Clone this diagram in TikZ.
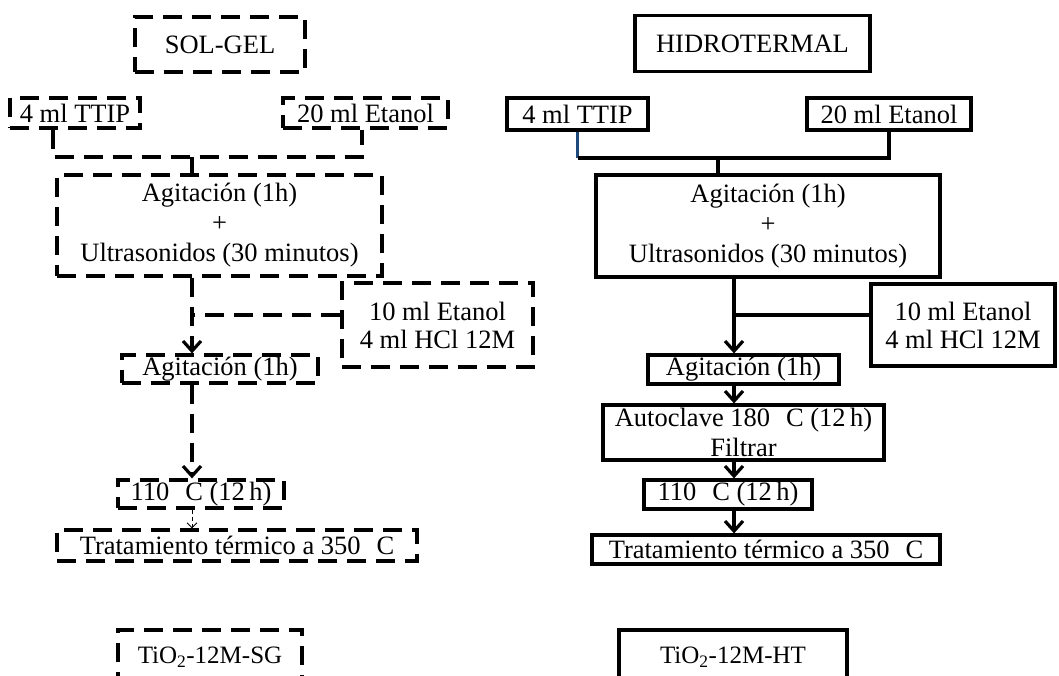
\documentclass[tikz,border=0pt]{standalone}
\usepackage{fontspec}
\setmainfont{Liberation Serif}
\usetikzlibrary{arrows.meta}
\definecolor{linkblue}{RGB}{31,73,125}
\tikzset{
  box/.style={draw, line width=3.2pt, inner sep=0pt, align=center,
    font=\fontsize{26.5}{30}\selectfont},
  dbox/.style={box, dash pattern=on 19pt off 10pt},
  sline/.style={line width=3.2pt},
  dline/.style={line width=3.2pt, dash pattern=on 19pt off 10pt},
  arr/.style={-{Straight Barb[length=10pt,width=18pt]}},
  thinarr/.style={line width=0.9pt, dash pattern=on 4pt off 3pt, -{Straight Barb[length=5pt,width=10pt]}},
  blueline/.style={line width=2.6pt, draw=linkblue}
}
\begin{document}
\begin{tikzpicture}[x=1pt,y=-1pt]
\useasboundingbox (0,0) rectangle (1059,675);
% ---------------- SOL-GEL ----------------
\node[dbox, minimum width=170pt, minimum height=55pt] (solgel) at (220,44.5) {SOL-GEL};
\node[dbox, minimum width=130pt, minimum height=30pt] (sgttip) at (75,113) {4 ml TTIP};
\node[dbox, minimum width=165pt, minimum height=30pt] (sgeta) at (365.5,113) {20 ml Etanol};
\node[dbox, minimum width=325pt, minimum height=101pt] (sgagit1) at (219.5,225.5) {Agitaci\'on (1h)\\+\\Ultrasonidos (30 minutos)};
\node[dbox, minimum width=191pt, minimum height=84pt, font=\fontsize{26.5}{28}\selectfont] (sgetoh) at (437.5,325) {10 ml Etanol\\4 ml HCl 12M};
\node[dbox, minimum width=196pt, minimum height=28pt] (sgagit2) at (220,369) {Agitaci\'on (1h)};
\node[dbox, minimum width=166pt, minimum height=28pt] (sg110) at (201,494) {110\hspace{0.6em}C (12\,h)};
\node[dbox, minimum width=360pt, minimum height=31pt] (sgtrat) at (237,545.5) {Tratamiento t\'ermico a 350\hspace{0.6em}C};
\node[dbox, minimum width=184pt, minimum height=54pt, font=\fontsize{25}{30}\selectfont] (sgtio) at (210,657) {TiO\textsubscript{2}-12M-SG};

\coordinate (sgj) at (192,157);
\coordinate (sgk) at (192,315);
\draw[dline] ([xshift=-22pt]sgttip.south) |- (sgj) -| ([xshift=-3.5pt]sgeta.south);
\draw[dline] (sgj) -- (sgagit1.north -| sgj);
\draw[dline, arr] (sgagit1.south -| sgk) -- (sgagit2.north -| sgk);
\draw[dline] (sgetoh.west |- sgk) -- (sgk);
\draw[dline, arr] (sgagit2.south -| sgk) -- (sg110.north -| sgk);
\draw[thinarr] (sg110.south -| sgk) -- (sgtrat.north -| sgk);

% ---------------- HIDROTERMAL ----------------
\node[box, minimum width=235pt, minimum height=56pt] (hidro) at (752.5,43.5) {HIDROTERMAL};
\node[box, minimum width=141pt, minimum height=32pt] (htttip) at (577.5,114) {4 ml TTIP};
\node[box, minimum width=164pt, minimum height=32pt] (hteta) at (889,114) {20 ml Etanol};
\node[box, minimum width=344pt, minimum height=102pt] (htagit1) at (768,226) {Agitaci\'on (1h)\\+\\Ultrasonidos (30 minutos)};
\node[box, minimum width=184pt, minimum height=82pt, font=\fontsize{26.5}{28}\selectfont] (htetoh) at (963,325) {10 ml Etanol\\4 ml HCl 12M};
\node[box, minimum width=191pt, minimum height=29pt] (htagit2) at (743.5,369.5) {Agitaci\'on (1h)};
\node[box, minimum width=281pt, minimum height=55pt] (htauto) at (743.5,432.5) {Autoclave 180\hspace{0.6em}C (12\,h)\\Filtrar};
\node[box, minimum width=168pt, minimum height=29pt] (ht110) at (728,494.5) {110\hspace{0.6em}C (12\,h)};
\node[box, minimum width=348pt, minimum height=29pt] (httrat) at (766,549.5) {Tratamiento t\'ermico a 350\hspace{0.6em}C};
\node[box, minimum width=228pt, minimum height=54pt, font=\fontsize{25}{30}\selectfont] (httio) at (733,657) {TiO\textsubscript{2}-12M-HT};

\coordinate (htj) at (718,158);
\coordinate (htk) at (734,315);
\draw[blueline] (htttip.south) -- (htttip.south |- htj);
\draw[sline] (htttip.south |- htj) -| (hteta.south);
\draw[sline] (htj) -- (htagit1.north -| htj);
\draw[sline, arr] (htagit1.south -| htk) -- (htagit2.north -| htk);
\draw[sline] (htetoh.west |- htk) -- (htk);
\draw[sline, arr] (htagit2.south -| htk) -- (htauto.north -| htk);
\draw[sline, arr] (htauto.south -| htk) -- (ht110.north -| htk);
\draw[sline, arr] (ht110.south -| htk) -- (httrat.north -| htk);
\end{tikzpicture}
\end{document}
